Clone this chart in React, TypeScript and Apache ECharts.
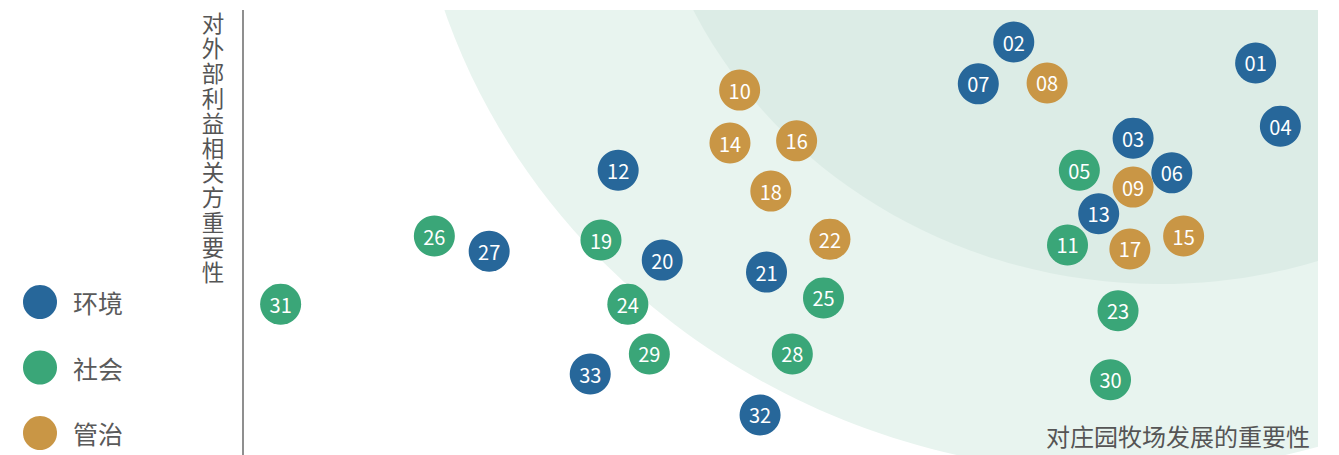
import React, { useEffect, useRef } from "react";
import * as echarts from "echarts";

const categories = ["环境", "社会", "管治"];
const colors = ["#27679a", "#3aa678", "#c99645"];

const envNames = ["01", "02", "03", "04", "06", "07", "12", "13", "20", "21", "27", "32", "33"];
const envX = [94.2, 71.7, 82.8, 96.5, 86.4, 68.4, 34.9, 79.6, 39.0, 48.7, 22.9, 48.1, 32.3];
const envY = [88.1, 92.8, 71.2, 73.9, 63.4, 83.4, 64.0, 54.2, 43.8, 41.1, 45.8, 9.0, 18.2];

const socNames = ["05", "11", "19", "23", "24", "25", "26", "28", "29", "30", "31"];
const socX = [77.8, 76.7, 33.3, 81.4, 35.8, 54.0, 17.8, 51.1, 37.8, 80.7, 3.5];
const socY = [64.0, 47.2, 48.3, 32.4, 33.9, 35.3, 49.2, 22.7, 22.7, 16.9, 33.9];

const govNames = ["08", "09", "10", "14", "15", "16", "17", "18", "22"];
const govX = [74.8, 82.8, 46.2, 45.3, 87.5, 51.5, 82.5, 49.1, 54.6];
const govY = [83.6, 60.2, 82.0, 70.1, 49.2, 70.6, 46.3, 59.3, 48.5];

const xAxisName = "对庄园牧场发展的重要性";
const yAxisName = "对外部利益相关方重要性";

const FONT = "'Noto Sans CJK SC', 'Noto Sans', sans-serif";

function build(names: string[], xs: number[], ys: number[]) {
  return names.map((n, i) => ({ value: [xs[i], ys[i]], name: n }));
}

export default function App() {
  const ref = useRef<HTMLDivElement>(null);
  useEffect(() => {
    document.body.style.margin = "0";
    const chart = echarts.init(ref.current!, null, { renderer: "svg" });
    const groups = [
      build(envNames, envX, envY),
      build(socNames, socX, socY),
      build(govNames, govX, govY),
    ];
    const yTitleChars = yAxisName.split("").map((ch, i) => ({
      type: "text",
      z: 10,
      x: 213,
      y: 22 + i * 24.9,
      style: {
        text: ch,
        fontSize: 22.5,
        lineHeight: 24,
        fill: "#555555",
        fontFamily: FONT,
        textAlign: "center",
        textVerticalAlign: "middle",
      },
    }));
    chart.setOption({
      animation: false,
      textStyle: { fontFamily: FONT },
      grid: { left: 243, right: 21, top: 10, bottom: 0 },
      xAxis: { type: "value", min: 0, max: 100, show: false },
      yAxis: {
        type: "value",
        min: 0,
        max: 100,
        axisLine: { show: true, onZero: false, lineStyle: { color: "#8f8f8f", width: 2 } },
        axisTick: { show: false },
        axisLabel: { show: false },
        splitLine: { show: false },
      },
      legend: {
        orient: "vertical",
        left: 23,
        top: 285,
        padding: 0,
        height: 170,
        icon: "circle",
        itemWidth: 34,
        itemHeight: 34,
        itemGap: 31.5,
        data: categories,
        textStyle: { fontSize: 25, color: "#5a5a5a", fontFamily: FONT, padding: [0, 0, 0, 11] },
        selectedMode: false,
      },
      graphic: [
        { type: "ellipse", z: 0, shape: { cx: 1121, cy: -200, rx: 712, ry: 673 }, style: { fill: "#e8f4ef" }, silent: true },
        { type: "ellipse", z: 1, shape: { cx: 1160, cy: -200, rx: 518, ry: 484 }, style: { fill: "#dcece6" }, silent: true },
        { type: "rect", z: 1, shape: { x: 1318, y: 0, width: 40, height: 470 }, style: { fill: "#ffffff" }, silent: true },
        { type: "rect", z: 1, shape: { x: 0, y: 0, width: 1339, height: 10 }, style: { fill: "#ffffff" }, silent: true },
        ...yTitleChars,
        {
          type: "text",
          z: 10,
          x: 1310,
          y: 435,
          style: {
            text: xAxisName,
            fontSize: 24,
            fill: "#555555",
            fontFamily: FONT,
            textAlign: "right",
            textVerticalAlign: "middle",
          },
        },
      ],
      series: categories.map((c, i) => ({
        name: c,
        type: "scatter",
        clip: false,
        symbol: "circle",
        symbolSize: 41,
        itemStyle: { color: colors[i], opacity: 1 },
        label: {
          show: true,
          position: "inside",
          formatter: (p: any) => p.name,
          color: "#ffffff",
          fontSize: 20,
          fontFamily: FONT,
        },
        emphasis: { disabled: true },
        data: groups[i],
      })),
    });
    return () => chart.dispose();
  }, []);
  return <div ref={ref} style={{ width: 1339, height: 455 }} />;
}
